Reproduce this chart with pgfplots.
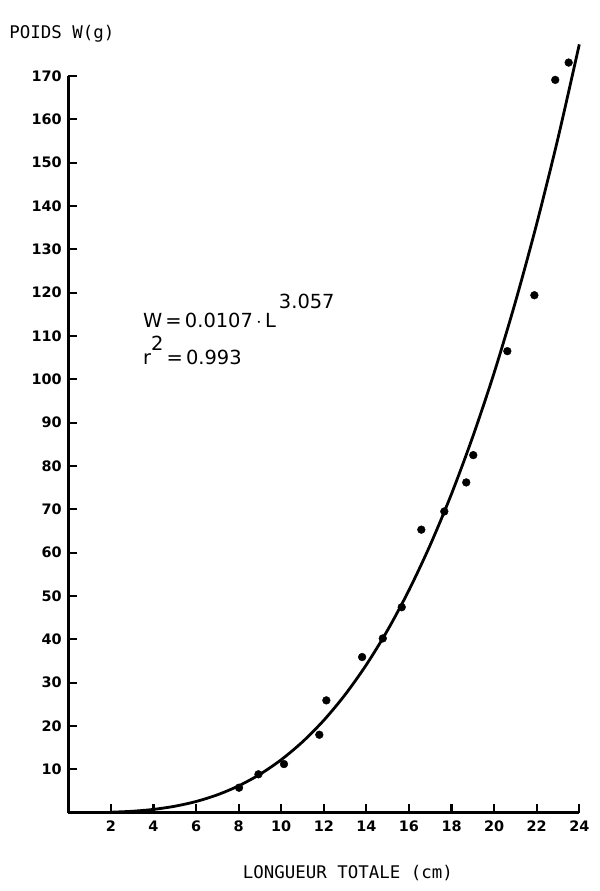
\documentclass[border=0pt]{standalone}
\usepackage{fontspec}
\setmainfont{DejaVu Sans}
\setmonofont{DejaVu Sans Mono}
\usepackage{pgfplots}
\pgfplotsset{compat=1.18}
\begin{document}
\begin{tikzpicture}
\useasboundingbox (-68.3bp,-78.4bp) rectangle (531.7bp,812.6bp);
\begin{axis}[
  at={(0,0)}, anchor=south west,
  scale only axis, width=511bp, height=736.6bp,
  xmin=0, xmax=24, ymin=0, ymax=170,
  axis x line*=bottom, axis y line*=left,
  axis line style={line width=3bp, black},
  xtick={2,4,...,24}, ytick={10,20,...,170},
  tick align=inside, major tick length=8.5bp,
  tick style={line width=2.2bp, black},
  /pgf/number format/assume math mode=true,
  tick label style={font=\bfseries\fontsize{14.5}{15}\selectfont},
  xticklabel style={yshift=-5bp},
  yticklabel style={xshift=-3bp},
  clip=false,
  xlabel={\ttfamily\fontsize{17.5}{18}\selectfont LONGUEUR TOTALE (cm)},
  xlabel style={at={(axis description cs:0.547,-0.082)}, anchor=center},
  ylabel={\ttfamily\fontsize{17.5}{18}\selectfont POIDS W(g)},
  ylabel style={rotate=-90, at={(axis description cs:-0.122,1.058)}, anchor=west},
]
\addplot[smooth, no marks, line width=2.8bp, black] coordinates {
(2,0.089) (3,0.308) (4,0.741) (5,1.466) (6,2.56) (7,4.10) (8,6.17) (9,8.84)
(10,12.20) (11,16.33) (12,21.30) (13,27.21) (14,34.13) (15,42.14) (16,51.33)
(17,61.79) (18,73.58) (19,86.80) (20,101.5) (21,117.87) (22,135.9) (23,155.67) (24,177.3)
};
\addplot[only marks, mark=*, mark size=3.9bp, black] coordinates {
(8.02,5.75) (8.93,8.84) (10.13,11.2) (11.79,17.97) (12.12,25.9) (13.8,35.9)
(14.77,40.2) (15.66,47.4) (16.58,65.3) (17.66,69.5) (18.69,76.2) (19.02,82.5)
(20.62,106.5) (21.89,119.4) (22.87,169.1) (23.5,173.1)
};
\node[anchor=base west, font=\fontsize{19.5}{20}\selectfont, inner sep=0pt] at (axis cs:3.5,112)
  {W\,=\,0.0107\,$\cdot$\,L\hspace{3bp}\raisebox{19bp}{3.057}};
\node[anchor=base west, font=\fontsize{19.5}{20}\selectfont, inner sep=0pt] at (axis cs:3.5,103.4)
  {r\raisebox{14bp}{2}\,=\,0.993};
\end{axis}
\end{tikzpicture}
\end{document}
